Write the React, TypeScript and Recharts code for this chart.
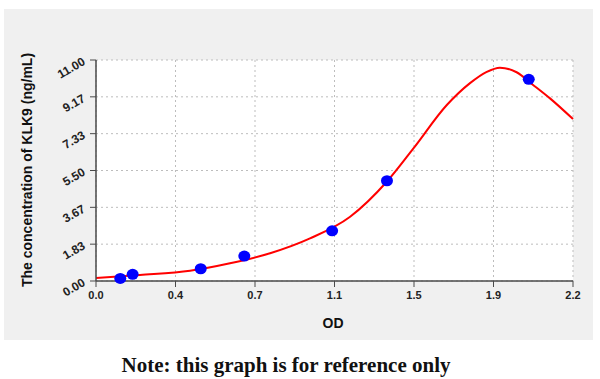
import React from "react";
import {
  ComposedChart,
  Line,
  Scatter,
  XAxis,
  YAxis,
  CartesianGrid,
} from "recharts";

// standard points (OD vs concentration)
const pointOD = [0.112, 0.169, 0.483, 0.684, 1.089, 1.342, 1.996];
const pointConc = [0.13, 0.33, 0.61, 1.24, 2.5, 4.99, 10.04];

// fitted curve
const curveOD = [0.0, 0.203, 0.434, 0.618, 0.803, 0.987, 1.172, 1.341, 1.464, 1.618, 1.725, 1.8, 1.863, 1.94, 2.016, 2.094, 2.2];
const curveConc = [0.15, 0.3, 0.51, 0.88, 1.38, 2.12, 3.2, 4.94, 6.6, 8.76, 9.85, 10.4, 10.62, 10.39, 9.76, 9.09, 8.06];

const xLabels = ["0.0", "0.4", "0.7", "1.1", "1.5", "1.9", "2.2"];
const yLabels = ["0.00", "1.83", "3.67", "5.50", "7.33", "9.17", "11.00"];

const X_MAX = 2.2;
const Y_MAX = 11;

const points = pointOD.map((od, i) => ({ od, conc: pointConc[i] }));
const curve = curveOD.map((od, i) => ({ od, conc: curveConc[i] }));

const xTicks = xLabels.map((_, i) => (X_MAX / 6) * i);
const yTicks = yLabels.map((_, i) => (Y_MAX / 6) * i);
const xMinor = Array.from({ length: 25 }, (_, i) => (X_MAX / 24) * i);
const yMinor = Array.from({ length: 25 }, (_, i) => (Y_MAX / 24) * i);

const axisColor = "#4a4a4a";
const font = "'Liberation Sans', Arial, sans-serif";

const YTick = (props: any) => {
  const { x, y, payload } = props;
  const i = Math.round(payload.value / (Y_MAX / 6));
  return (
    <text
      x={x - 2}
      y={y + 4}
      transform={`rotate(-30 ${x - 2} ${y + 4})`}
      textAnchor="end"
      fontSize={12}
      fontWeight="bold"
      fontFamily={font}
      fill="#222"
    >
      {yLabels[i]}
    </text>
  );
};

export default function App() {
  return (
    <div style={{ position: "absolute", left: 0, top: 0, width: 600, height: 379, background: "#fff" }}>
      <div style={{ position: "absolute", left: 4, top: 9, width: 589, height: 331, background: "#f0f0f0" }}>
        <ComposedChart
          width={589}
          height={331}
          margin={{ top: 51, right: 20, bottom: 29, left: 42 }}
        >
          <CartesianGrid
            stroke="#bdbdbd"
            strokeDasharray="2 3"
            fill="#ffffff"
            verticalValues={xTicks}
            horizontalValues={yTicks}
          />
          <XAxis
            xAxisId="minor"
            type="number"
            dataKey="od"
            domain={[0, X_MAX]}
            ticks={xMinor}
            tick={false}
            tickSize={4}
            axisLine={false}
            stroke={axisColor}
            height={0}
          />
          <XAxis
            type="number"
            dataKey="od"
            domain={[0, X_MAX]}
            ticks={xTicks}
            interval={0}
            tickSize={6}
            tickFormatter={(v: number) => xLabels[Math.round(v / (X_MAX / 6))]}
            tick={{ fontSize: 11, fontWeight: "bold", fontFamily: font, fill: "#222", dy: 2 }}
            axisLine={{ stroke: axisColor, strokeWidth: 1.5 }}
            tickLine={{ stroke: axisColor }}
            height={30}
          />
          <XAxis
            xAxisId="top"
            orientation="top"
            type="number"
            domain={[0, X_MAX]}
            tick={false}
            tickLine={false}
            axisLine={{ stroke: axisColor, strokeWidth: 1.5 }}
            height={0}
          />
          <YAxis
            yAxisId="minor"
            type="number"
            domain={[0, Y_MAX]}
            ticks={yMinor}
            tick={false}
            tickSize={4}
            axisLine={false}
            stroke={axisColor}
            width={0}
          />
          <YAxis
            type="number"
            domain={[0, Y_MAX]}
            ticks={yTicks}
            interval={0}
            tickSize={6}
            tick={<YTick />}
            axisLine={{ stroke: axisColor, strokeWidth: 1.5 }}
            tickLine={{ stroke: axisColor }}
            width={50}
          />
          <YAxis
            yAxisId="right"
            orientation="right"
            type="number"
            domain={[0, Y_MAX]}
            tick={false}
            tickLine={false}
            axisLine={{ stroke: axisColor, strokeWidth: 1.5 }}
            width={0}
          />
          <Line
            data={curve}
            dataKey="conc"
            type="monotone"
            stroke="#ff0000"
            strokeWidth={2}
            dot={false}
            isAnimationActive={false}
          />
          <Scatter
            data={points}
            dataKey="conc"
            fill="#0000ff"
            shape={(p: any) => <ellipse cx={p.cx} cy={p.cy} rx={6} ry={5.5} fill="#0000ff" />}
            isAnimationActive={false}
          />
        </ComposedChart>
        <div
          style={{
            position: "absolute",
            left: 23,
            top: 161,
            transform: "translate(-50%, -50%) rotate(-90deg)",
            whiteSpace: "nowrap",
            fontFamily: font,
            fontWeight: "bold",
            fontSize: 14,
            color: "#111",
          }}
        >
          The concentration of KLK9 (ng/mL)
        </div>
        <div
          style={{
            position: "absolute",
            left: 329,
            top: 314,
            transform: "translate(-50%, -50%)",
            fontFamily: font,
            fontWeight: "bold",
            fontSize: 14,
            color: "#111",
          }}
        >
          OD
        </div>
      </div>
      <div
        style={{
          position: "absolute",
          left: 286,
          top: 365,
          transform: "translate(-50%, -50%)",
          whiteSpace: "nowrap",
          fontFamily: "'Liberation Serif', 'DejaVu Serif', serif",
          fontWeight: "bold",
          fontSize: 21,
          color: "#111",
        }}
      >
        Note: this graph is for reference only
      </div>
    </div>
  );
}
